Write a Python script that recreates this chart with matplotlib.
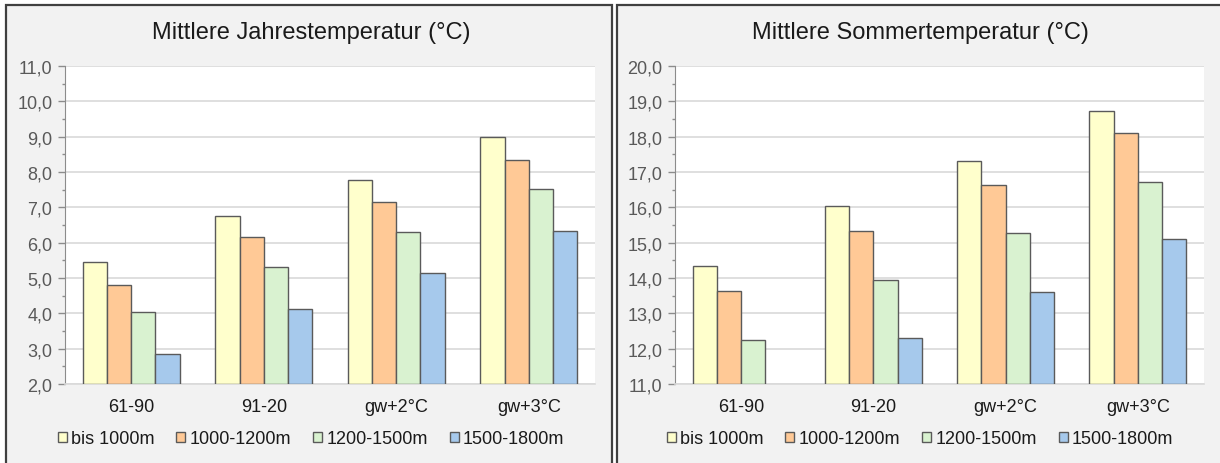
import numpy as np
import matplotlib
matplotlib.use("Agg")
import matplotlib.pyplot as plt
from matplotlib.patches import Rectangle, Patch
from matplotlib.ticker import MultipleLocator, FuncFormatter

plt.rcParams['font.family'] = ['Liberation Sans', 'DejaVu Sans']

# Zeiträume / Szenarien
perioden = ['61-90', '91-20', 'gw+2°C', 'gw+3°C']
hoehenstufen = ['bis 1000m', '1000-1200m', '1200-1500m', '1500-1800m']
farben = ['#ffffcc', '#ffc996', '#d9f2d0', '#a6c9ec']

# Mittlere Jahrestemperatur je Höhenstufe
jahr_bis1000 = [5.46, 6.76, 7.77, 8.98]
jahr_1000_1200 = [4.80, 6.15, 7.16, 8.34]
jahr_1200_1500 = [4.03, 5.30, 6.31, 7.52]
jahr_1500_1800 = [2.85, 4.11, 5.14, 6.33]

# Mittlere Sommertemperatur je Höhenstufe (61-90 ohne Wert für 1500-1800m)
sommer_bis1000 = [14.35, 16.03, 17.32, 18.72]
sommer_1000_1200 = [13.62, 15.34, 16.63, 18.10]
sommer_1200_1500 = [12.24, 13.95, 15.27, 16.73]
sommer_1500_1800 = [np.nan, 12.31, 13.61, 15.09]

W, H = 1220, 464
fig = plt.figure(figsize=(W / 100, H / 100), dpi=100)
fig.patch.set_facecolor('white')

# Rahmen der beiden Diagramme
for x0, x1 in [(6, 612), (617, 1226)]:
    fig.add_artist(Rectangle((x0 / W, -0.05), (x1 - x0) / W, 1.05 - 6 / H,
                             transform=fig.transFigure, facecolor='#f2f2f2',
                             edgecolor='#404040', linewidth=1.6, zorder=0))


def komma(v, pos):
    return f"{v:.1f}".replace('.', ',')


def zeichne(ax, reihen, ymin, ymax, titel, mitte):
    x = np.arange(len(perioden))
    bw = 0.183
    for i, (werte, farbe) in enumerate(zip(reihen, farben)):
        ax.bar(x + (i - 1.5) * bw, np.array(werte) - ymin, bw, bottom=ymin,
               color=farbe, edgecolor='#5a5a5a', linewidth=1.0, zorder=3)
    ax.set_xlim(-0.5, len(perioden) - 0.5)
    ax.set_ylim(ymin, ymax)
    ax.set_facecolor('white')
    ax.yaxis.set_major_locator(MultipleLocator(1.0))
    ax.yaxis.set_minor_locator(MultipleLocator(0.5))
    ax.yaxis.set_major_formatter(FuncFormatter(komma))
    ax.grid(axis='y', color='#d9d9d9', linewidth=1.2, zorder=0)
    ax.set_axisbelow(True)
    for s in ['top', 'right']:
        ax.spines[s].set_visible(False)
    ax.spines['left'].set_color('#8c8c8c')
    ax.spines['bottom'].set_color('#d9d9d9')
    ax.spines['bottom'].set_linewidth(1.2)
    ax.tick_params(axis='y', which='major', length=5, width=1, color='#8c8c8c',
                   labelsize=13, labelcolor='#595959', pad=4)
    ax.tick_params(axis='y', which='minor', length=2.5, width=1, color='#8c8c8c')
    ax.set_xticks(x)
    ax.set_xticklabels(perioden)
    ax.tick_params(axis='x', length=0, labelsize=13, labelcolor='#1a1a1a', pad=10)
    fig.text(mitte, 1 - 33 / H, titel, ha='center', va='center', fontsize=17,
             color='#1a1a1a')
    handles = [Patch(facecolor=f, edgecolor='#5a5a5a', linewidth=1.0) for f in farben]
    fig.legend(handles, hoehenstufen, loc='center', bbox_to_anchor=(mitte, 1 - 440 / H),
               ncol=4, frameon=False, fontsize=13, handlelength=0.5, handleheight=0.5,
               handletextpad=0.25, columnspacing=1.2, labelcolor='#1a1a1a')


ax1 = fig.add_axes([65 / W, 1 - 385 / H, 530 / W, 318 / H])
zeichne(ax1, [jahr_bis1000, jahr_1000_1200, jahr_1200_1500, jahr_1500_1800],
        2.0, 11.0, 'Mittlere Jahrestemperatur (°C)', 311 / W)

ax2 = fig.add_axes([675 / W, 1 - 385 / H, 529 / W, 318 / H])
zeichne(ax2, [sommer_bis1000, sommer_1000_1200, sommer_1200_1500, sommer_1500_1800],
        11.0, 20.0, 'Mittlere Sommertemperatur (°C)', 920 / W)

fig.savefig('out.png', dpi=100, facecolor=fig.get_facecolor())
